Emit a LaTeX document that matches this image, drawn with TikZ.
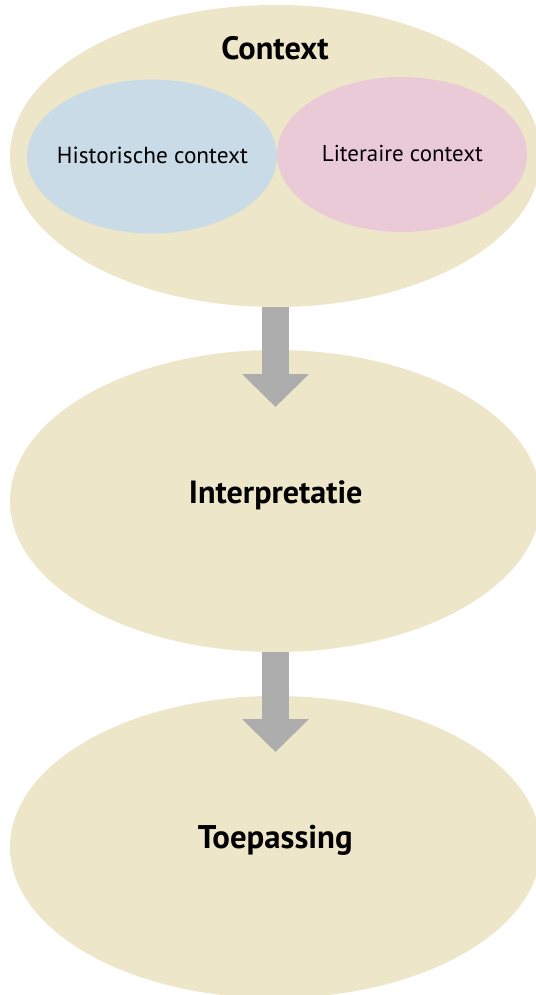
\documentclass[tikz,border=0pt]{standalone}
\usepackage{fontspec}
\setmainfont{PT Sans}
\usetikzlibrary{shapes.geometric,arrows.meta}
\definecolor{beige}{HTML}{EEE6C8}
\definecolor{lblue}{HTML}{C9DBE6}
\definecolor{lpink}{HTML}{EBCAD7}
\definecolor{agray}{HTML}{ADADAD}
\newcommand{\fitw}[2]{\resizebox{#1}{!}{#2}}
\begin{document}
\begin{tikzpicture}[x=1pt,y=-1pt,
  big/.style={ellipse, fill=beige, minimum width=531pt, minimum height=302pt, inner sep=0pt},
  sub/.style={ellipse, minimum width=250pt, minimum height=154pt, inner sep=0pt},
  lbl/.style={anchor=base, inner sep=0pt, text=black},
  flow/.style={draw=agray, line width=27.5pt, -{Triangle[length=33pt,width=65pt]}}]
\useasboundingbox (0,0) rectangle (535,995);
\fill[white] (0,0) rectangle (535,995);
% main ellipses
\node[big] (top) at (275.5,156) {};
\node[big] (mid) at (275.5,501) {};
\node[big] (bot) at (275.5,847) {};
% inner ellipses
\node[sub, fill=lblue] (hist) at (152,156.5) {};
\node[sub, fill=lpink, minimum height=155pt] (lit) at (402,154.5) {};
% arrow end points
\coordinate (tipA) at (275.5,407);
\coordinate (tipB) at (275.5,752);
\draw[flow] (top.south) -- (tipA);
\draw[flow] (mid.south) -- (tipB);
% labels
\node[lbl, font=\bfseries] (tctx) at (275,60) {\fitw{107pt}{Context}};
\node[lbl] (thist) at (152.5,164) {\fitw{191pt}{Historische context}};
\node[lbl] (tlit) at (402.4,161.5) {\fitw{161pt}{Literaire context}};
\node[lbl, font=\bfseries] (tint) at (275.7,503.3) {\fitw{173.5pt}{Interpretatie}};
\node[lbl, font=\bfseries] (ttoe) at (275.3,848.3) {\fitw{154.6pt}{Toepassing}};
\end{tikzpicture}
\end{document}
